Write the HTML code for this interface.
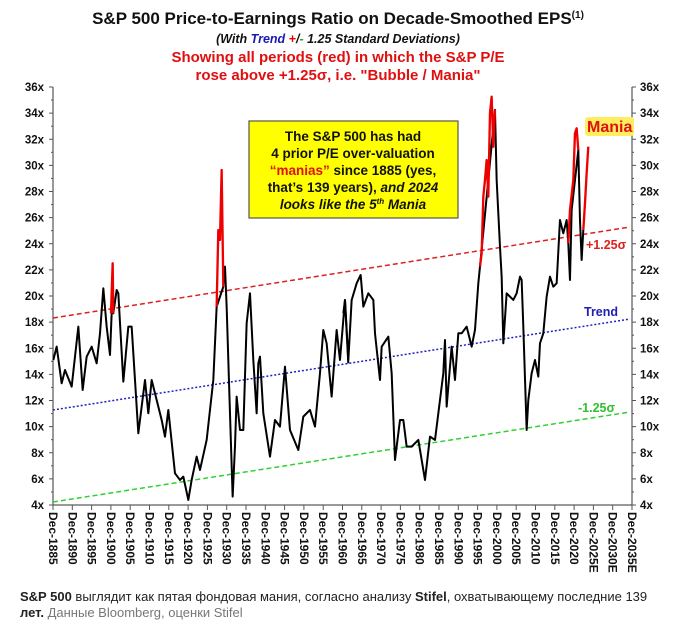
<!DOCTYPE html>
<html><head><meta charset="utf-8"><style>
body{margin:0;background:#fff;width:675px;height:621px;overflow:hidden}
svg{display:block}
</style></head><body>
<svg width="675" height="621" viewBox="0 0 675 621" font-family="Liberation Sans, sans-serif">
<text x="338" y="24" text-anchor="middle" font-size="17" font-weight="bold" fill="#111">S&amp;P 500 Price-to-Earnings Ratio on Decade-Smoothed EPS<tspan font-size="10" dy="-6">(1)</tspan></text>
<text x="338" y="43" text-anchor="middle" font-size="12.5" font-weight="bold" font-style="italic" fill="#111">(With <tspan fill="#1a1ab0">Trend</tspan> <tspan fill="#e00">+</tspan>/<tspan fill="#2a2">-</tspan> 1.25 Standard Deviations)</text>
<text x="338" y="62" text-anchor="middle" font-size="15" font-weight="bold" fill="#e01010">Showing all periods (red) in which the S&amp;P P/E</text>
<text x="338" y="80" text-anchor="middle" font-size="15" font-weight="bold" fill="#e01010">rose above +1.25σ, i.e. "Bubble / Mania"</text>

<!-- axes -->
<g stroke="#333" stroke-width="1">
<line x1="53" y1="87" x2="53" y2="505"/>
<line x1="632" y1="87" x2="632" y2="505"/>
<line x1="53" y1="505" x2="632" y2="505"/>
</g>
<g id="ticks" stroke="#555" stroke-width="1"></g>
<g font-size="11.5" font-weight="bold" fill="#111" id="ylab"></g>
<g font-size="12" font-weight="bold" fill="#111" id="xlab"></g>

<!-- trend lines -->
<line x1="53" y1="318" x2="630" y2="227" stroke="#e02020" stroke-width="1.5" stroke-dasharray="5,3"/>
<line x1="53" y1="410" x2="630" y2="319" stroke="#2020c0" stroke-width="1.5" stroke-dasharray="2,2"/>
<line x1="53" y1="502" x2="630" y2="412" stroke="#30d030" stroke-width="1.5" stroke-dasharray="5,3"/>

<g transform="translate(50,80) scale(0.3333)" fill="none" stroke-linejoin="round">
<polyline stroke="#000" stroke-width="6" points="10,840 20,800 35,910 45,870 65,920 85,740 98,930 110,830 125,800 140,850 150,760 160,625 170,740 180,825 185,700 190,700 200,630 205,640 220,905 235,740 245,740 265,1060 285,900 295,1000 305,900 320,960 335,1020 345,1070 355,990 375,1180 390,1200 400,1190 415,1260 425,1200 440,1130 450,1170 470,1080 490,900 500,680 520,620 525,560 530,680 540,1000 548,1250 555,1100 560,950 570,1050 580,1050 590,730 600,640 610,840 620,1000 625,850 630,830 640,1000 660,1130 675,1020 690,1040 705,860 720,1050 745,1110 760,1010 780,990 795,1040 810,880 820,750 830,790 845,950 860,750 870,840 885,660 895,850"/>
<polyline stroke="#e00" stroke-width="7" points="183,700 188,550 190,700"/>
<polyline stroke="#e00" stroke-width="7" points="500,680 505,450 510,480 515,270 518,480 520,620"/>
</g>
<g transform="translate(340,80) scale(0.3333)" fill="none" stroke-linejoin="round">
<polyline stroke="#000" stroke-width="6" points="10,700 15,660 25,840 35,660 50,610 62,585 70,680 85,640 100,660 105,760 120,900 125,800 145,770 155,880 165,1140 180,1020 190,1020 200,1100 215,1100 235,1080 255,1200 270,1070 285,1080 300,960 310,880 315,780 320,980 335,800 345,900 355,760 365,760 380,740 395,800 405,750 415,610 420,560 465,90 470,300 480,500 485,590 490,790 500,640 520,660 530,640 540,590 545,600 550,740 560,1050 565,960 575,880 585,840 595,890 600,790 610,760 620,650 630,590 640,620 650,610 660,420 670,460 680,420 685,490 690,600 695,390 715,210 720,420 725,540 730,450"/>
<polyline stroke="#e00" stroke-width="7" points="420,560 425,520 430,350 435,300 440,240 445,350 450,100 455,50 460,200 465,90"/>
<polyline stroke="#e00" stroke-width="7" points="685,490 690,390 700,300 705,160 710,145 715,210"/>
<polyline stroke="#e00" stroke-width="7" points="730,450 735,370 740,280 745,200"/>
</g>

<!-- box -->
<rect x="249" y="121" width="209" height="97" fill="#ffff00" stroke="#555" stroke-width="1.2"/>
<g font-size="13.5" font-weight="bold" text-anchor="middle" fill="#111">
<text x="353" y="141">The S&amp;P 500 has had</text>
<text x="353" y="158">4 prior P/E over-valuation</text>
<text x="353" y="175"><tspan fill="#e01010">“manias”</tspan> since 1885 (yes,</text>
<text x="353" y="192">that’s 139 years), <tspan font-style="italic">and 2024</tspan></text>
<text x="353" y="209" font-style="italic">looks like the 5<tspan font-size="8" dy="-5">th</tspan><tspan dy="5"> Mania</tspan></text>
</g>
<rect x="585" y="117" width="49" height="19" fill="#ffef60" rx="3"/>
<text x="587" y="132" font-size="16" font-weight="bold" fill="#e01010">Mania</text>
<text x="586" y="249" font-size="12.5" font-weight="bold" fill="#e02020">+1.25σ</text>
<text x="584" y="316" font-size="12.5" font-weight="bold" fill="#2020b0">Trend</text>
<text x="578" y="412" font-size="12.5" font-weight="bold" fill="#30c030">-1.25σ</text>

<text x="20" y="601" font-size="13" fill="#222"><tspan font-weight="bold">S&amp;P 500</tspan> выглядит как пятая фондовая мания, согласно анализу <tspan font-weight="bold">Stifel</tspan>, охватывающему последние 139</text>
<text x="20" y="617" font-size="13" fill="#777"><tspan font-weight="bold" fill="#222">лет.</tspan> Данные Bloomberg, оценки Stifel</text>
</svg>
<script>
var ns="http://www.w3.org/2000/svg";
var t=document.getElementById("ticks"),yl=document.getElementById("ylab"),xl=document.getElementById("xlab");
function el(n,a,p,txt){var e=document.createElementNS(ns,n);for(var k in a)e.setAttribute(k,a[k]);if(txt)e.textContent=txt;p.appendChild(e);}
for(var v=4;v<=36;v++){var y=505-(v-4)*13.0625;var maj=v%2==0;
el("line",{x1:53-(maj?4:2),y1:y,x2:53,y2:y},t);el("line",{x1:632,y1:y,x2:632+(maj?4:2),y2:y},t);
if(maj){el("text",{x:44,y:y+4,"text-anchor":"end"},yl,v+"x");el("text",{x:640,y:y+4},yl,v+"x");}}
for(var i=0;i<=30;i++){var x=53+i*19.3;el("line",{x1:x,y1:505,x2:x,y2:510},t);
var yr=1885+i*5;var s="Dec-"+yr+(yr>=2025?"E":"");
el("text",{x:0,y:0,transform:"translate("+(x-4)+",512) rotate(90)"},xl,s);}
</script>
</body></html>
